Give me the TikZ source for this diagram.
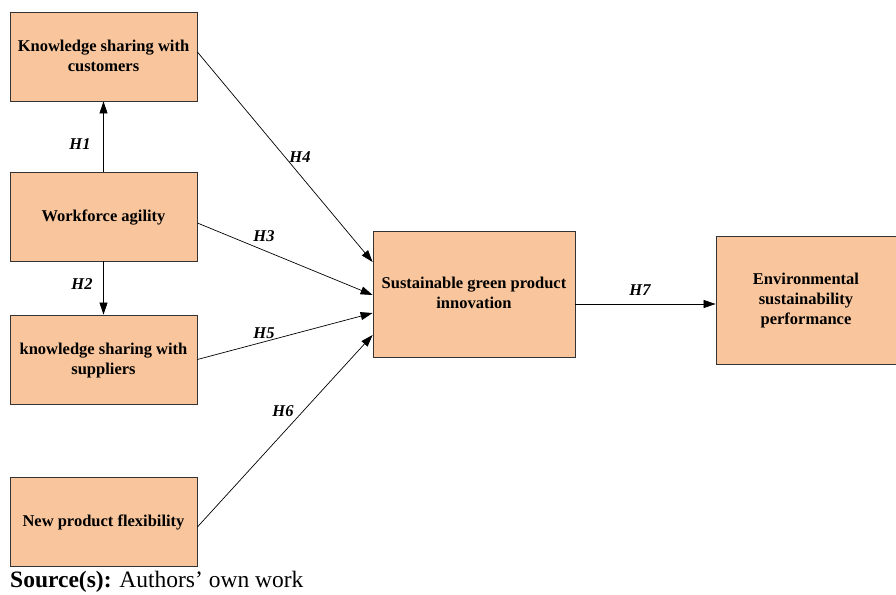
\documentclass[tikz,border=0pt]{standalone}
\usepackage{fontspec}
\setmainfont{Liberation Serif}
\usepackage{tikz}
\usetikzlibrary{arrows.meta}

\definecolor{boxfill}{HTML}{F8C59C}

\begin{document}
\begin{tikzpicture}[x=1pt,y=-1pt,
  concept/.style={draw=black!80,fill=boxfill,line width=0.8pt,align=center,
    font=\fontsize{16.5}{20}\selectfont\bfseries,inner sep=0pt,text depth=2pt},
  path/.style={-{Triangle[length=12pt,width=8pt]},line width=0.7pt},
  hyp/.style={font=\fontsize{16.5}{18}\selectfont\bfseries\itshape}]
\useasboundingbox (0,0) rectangle (896,594);
\node[concept,minimum width=187pt,minimum height=89pt] (cust) at (103.5,56.5) {Knowledge sharing with\\customers};
\node[concept,minimum width=187pt,minimum height=89pt] (agil) at (103.5,216.5) {Workforce agility};
\node[concept,minimum width=187pt,minimum height=89pt] (supp) at (103.5,359.5) {knowledge sharing with\\suppliers};
\node[concept,minimum width=187pt,minimum height=89pt] (flex) at (103.5,521.5) {New product flexibility};
\node[concept,minimum width=202pt,minimum height=126pt] (sgpi) at (474,294) {Sustainable green product\\innovation};
\node[concept,minimum width=190pt,minimum height=128pt] (envp) at (811,300) {\hspace*{-10pt}Environmental\\\hspace*{-10pt}sustainability\\\hspace*{-10pt}performance};
\draw[path] (agil) -- (cust);
\draw[path] (agil) -- (supp);
\draw[path] ([yshift=4.5pt]cust.east) -- ([yshift=32pt]sgpi.west);
\draw[path] ([yshift=-6.5pt]agil.east) -- ([yshift=-1pt]sgpi.west);
\draw[path] (supp.east) -- ([yshift=-19pt]sgpi.west);
\draw[path] ([yshift=-5.5pt]flex.east) -- ([yshift=-41pt]sgpi.west);
\draw[path] ([yshift=-10pt]sgpi.east) -- ([yshift=-4pt]envp.west);
\node[hyp] (h1) at (80,144) {H1};
\node[hyp] (h2) at (82,284) {H2};
\node[hyp] (h3) at (264,236) {H3};
\node[hyp] (h4) at (300,157) {H4};
\node[hyp] (h5) at (264,333) {H5};
\node[hyp] (h6) at (283,411) {H6};
\node[hyp] (h7) at (640,290) {H7};
\node[anchor=west,inner sep=0pt,font=\fontsize{23.5}{25}\selectfont] (src) at (10,582) {\textbf{Source(s):} Authors’ own work};
\end{tikzpicture}
\end{document}
